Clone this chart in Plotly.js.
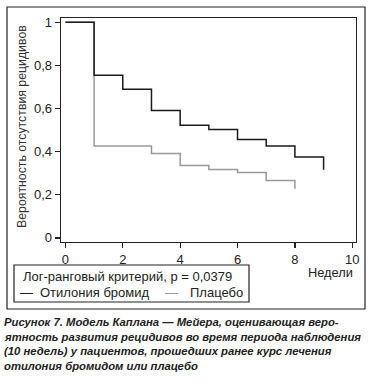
<!DOCTYPE html>
<html><head><meta charset="utf-8">
<script src="https://cdn.plot.ly/plotly-3.0.1.min.js"></script>
<style>html,body{margin:0;padding:0;background:#fff}#c{width:370px;height:384px}</style>
</head><body><div id="c"></div>
<script>
const weeksA = [0,1,2,3,4,5,6,7,8,9];
const survA = [1,0.754,0.689,0.591,0.522,0.503,0.457,0.426,0.375,0.316];
const weeksB = [0,1,2,3,4,5,6,7,8];
const survB = [1,0.426,0.426,0.392,0.336,0.317,0.303,0.266,0.228];
const xTicks = [0,2,4,6,8,10];
const yTicks = [0,0.2,0.4,0.6,0.8,1];
const yTickText = ['0','0,2','0,4','0,6','0,8','1'];
const nameA = 'Отилония бромид';
const nameB = 'Плацебо';
const legendTitle = 'Лог-ранговый критерий, p = 0,0379';
const xTitle = 'Недели';
const yTitle = 'Вероятность отсутствия рецидивов';
const caption = ['Рисунок 7. Модель Каплана — Мейера, оценивающая веро-',
 'ятность развития рецидивов во время периода наблюдения',
 '(10 недель) у пациентов, прошедших ранее курс лечения',
 'отилония бромидом или плацебо'];

const L=61,R=356,T=18,B=242,W=370,H=384;
const px=x=>(x-L)/(R-L), py=y=>(B-y)/(B-T);
const font='Liberation Sans, Arial, sans-serif';

const traces=[
 {x:weeksB,y:survB,mode:'lines',line:{shape:'hv',color:'#999999',width:1.5},name:nameB,hoverinfo:'none'},
 {x:weeksA,y:survA,mode:'lines',line:{shape:'hv',color:'#1a1a1a',width:1.5},name:nameA,hoverinfo:'none'}
];
const ann=[
 {text:yTitle,x:px(22),y:py(127),textangle:-90,font:{size:12.3,color:'#333'}},
 {text:xTitle,x:px(355),y:py(272.5),xanchor:'right',font:{size:12.8,color:'#222'}},
 {text:legendTitle,x:px(21),y:py(276),xanchor:'left',font:{size:13,color:'#222'}},
 {text:'—',x:px(18),y:py(292),xanchor:'left',font:{size:13,color:'#222'}},
 {text:nameA,x:px(38),y:py(292),xanchor:'left',font:{size:13,color:'#222'}},
 {text:'—',x:px(163),y:py(292),xanchor:'left',font:{size:13,color:'#999'}},
 {text:nameB,x:px(188),y:py(292),xanchor:'left',font:{size:13,color:'#222'}}
];
caption.forEach((t,i)=>ann.push({text:'<b><i>'+t+'</i></b>',x:px(2),y:py(322+i*14.7),xanchor:'left',font:{size:11.3,color:'#222'}}));
ann.forEach(a=>{a.xref='paper';a.yref='paper';a.showarrow=false;if(!a.xanchor)a.xanchor='center';a.yanchor='middle';a.font.family=font;});

const layout={
 width:W,height:H,margin:{l:L,r:W-R,t:T,b:H-B},
 paper_bgcolor:'#fff',plot_bgcolor:'#fff',showlegend:false,separators:', ',
 font:{family:font,size:13,color:'#222'},
 xaxis:{range:[-0.154,10.13],tickvals:xTicks,ticks:'outside',ticklen:5,tickwidth:1.2,tickcolor:'#222',
   showline:true,linecolor:'#222',linewidth:1.3,mirror:true,showgrid:false,zeroline:false,fixedrange:true,
   tickfont:{size:13,color:'#222'}},
 yaxis:{range:[-0.019,1.02],tickvals:yTicks,ticktext:yTickText,ticks:'outside',ticklen:5,tickwidth:1.2,tickcolor:'#222',
   showline:true,linecolor:'#222',linewidth:1.3,mirror:true,showgrid:false,zeroline:false,fixedrange:true,
   tickfont:{size:13,color:'#222'}},
 annotations:ann,
 shapes:[
  {type:'rect',xref:'paper',yref:'paper',x0:px(7),x1:px(365),y0:py(7),y1:py(309),line:{color:'#222',width:1.2}},
  {type:'rect',xref:'paper',yref:'paper',x0:px(14),x1:px(249),y0:py(265),y1:py(302),line:{color:'#222',width:1.2}}
 ]
};
Plotly.newPlot('c',traces,layout,{staticPlot:true,displayModeBar:false});
</script></body></html>
